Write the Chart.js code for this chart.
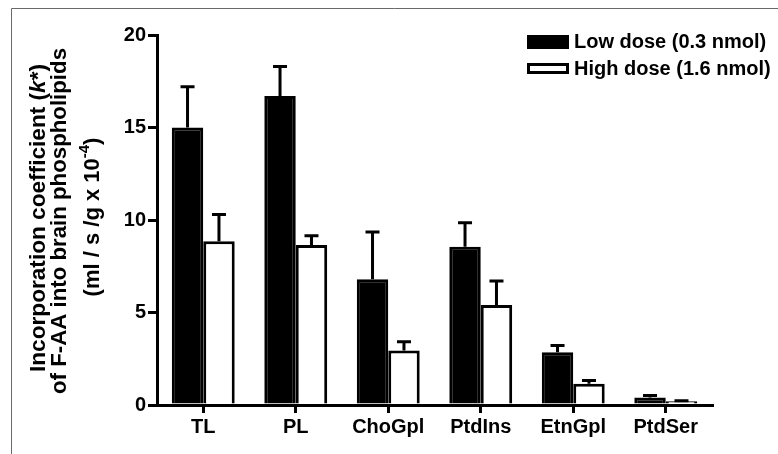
<!DOCTYPE html>
<html>
<head>
<meta charset="utf-8">
<script src="https://cdn.jsdelivr.net/npm/chart.js@4.4.1/dist/chart.umd.min.js"></script>
<style>
    html, body { margin: 0; padding: 0; background: #fff; }
    #grafico { display: block; }
</style>
</head>
<body>
<canvas id="grafico" width="778" height="454"></canvas>
<script>
// Values (k*, ml / s / g x 10^-4)
const categories = ['TL', 'PL', 'ChoGpl', 'PtdIns', 'EtnGpl', 'PtdSer'];
const lowDose = [15.0, 16.7, 6.8, 8.55, 2.85, 0.4];
const lowDoseErr = [2.2, 1.6, 2.55, 1.3, 0.37, 0.12];
const highDose = [8.85, 8.65, 2.95, 5.4, 1.15, 0.2];
const highDoseErr = [1.45, 0.5, 0.47, 1.3, 0.17, 0.03];
const yTicks = [0, 5, 10, 15, 20];
const seriesLabels = ['Low dose (0.3 nmol)', 'High dose (1.6 nmol)'];

const FONT = '"Liberation Sans", Arial, sans-serif';

document.addEventListener('DOMContentLoaded', () => {
    const ctx = document.getElementById('grafico').getContext('2d');
    Chart.defaults.font.family = FONT;
    Chart.defaults.color = '#000';

    // thin grey frame of the original scan (top and left edge only)
    const framePlugin = {
        id: 'frame',
        beforeDraw(chart) {
            const c = chart.ctx;
            c.save();
            c.fillStyle = '#fff';
            c.fillRect(0, 0, chart.width, chart.height);
            c.strokeStyle = '#6a6a6a';
            c.lineWidth = 1;
            c.beginPath();
            c.moveTo(11.5, chart.height);
            c.lineTo(11.5, 8.5);
            c.lineTo(chart.width, 8.5);
            c.stroke();
            c.restore();
        }
    };

    // upper error bars (SEM) drawn from each dataset's errors array
    const errorBarPlugin = {
        id: 'errorBars',
        afterDatasetsDraw(chart) {
            const c = chart.ctx;
            const y = chart.scales.y;
            c.save();
            c.strokeStyle = '#000';
            c.lineWidth = 3;
            chart.data.datasets.forEach((ds, i) => {
                const meta = chart.getDatasetMeta(i);
                meta.data.forEach((bar, j) => {
                    const top = y.getPixelForValue(ds.data[j] + ds.errors[j]);
                    c.beginPath();
                    c.moveTo(bar.x, bar.y);
                    c.lineTo(bar.x, top);
                    c.moveTo(bar.x - 7, top);
                    c.lineTo(bar.x + 7, top);
                    c.stroke();
                });
            });
            c.restore();
        }
    };

    // legend stacked in the upper right corner
    const legendPlugin = {
        id: 'stackedLegend',
        afterDraw(chart) {
            const c = chart.ctx;
            const rows = [{ y: 35, h: 14 }, { y: 63, h: 11 }];
            c.save();
            c.font = 'bold 20px ' + FONT;
            c.textBaseline = 'middle';
            chart.data.datasets.forEach((ds, i) => {
                const r = rows[i];
                c.fillStyle = ds.backgroundColor;
                c.fillRect(527, r.y, 42, r.h);
                c.strokeStyle = '#000';
                c.lineWidth = 3;
                c.strokeRect(528.5, r.y + 1.5, 39, r.h - 3);
                c.fillStyle = '#000';
                c.fillText(ds.label, 574, i === 0 ? 42 : 69);
            });
            c.restore();
        }
    };

    // rotated y title with italic k and superscript exponent
    const yTitlePlugin = {
        id: 'yTitle',
        afterDraw(chart) {
            const c = chart.ctx;
            const bold = 'bold 22px ' + FONT;
            const lines = [
                { x: 45, cy: 218, len: 308, parts: [
                    { t: 'Incorporation coefficient (', f: bold },
                    { t: 'k', f: 'italic bold 22px ' + FONT },
                    { t: '*)', f: bold }] },
                { x: 66, cy: 221, len: 346, parts: [{ t: 'of F-AA into brain phospholipids', f: bold }] },
                { x: 99, cy: 217, len: 0, parts: [
                    { t: '(ml / s /g x 10', f: bold },
                    { t: '-4', f: 'bold 15px ' + FONT, dy: -10 },
                    { t: ')', f: bold }] }
            ];
            c.save();
            c.fillStyle = '#000';
            c.textBaseline = 'alphabetic';
            lines.forEach(line => {
                let total = 0;
                line.parts.forEach(p => { c.font = p.f; p.w = c.measureText(p.t).width; total += p.w; });
                const k = line.len ? line.len / total : 1;
                c.save();
                c.translate(line.x, line.cy);
                c.rotate(-Math.PI / 2);
                c.scale(k, 1);
                let px = -total / 2;
                line.parts.forEach(p => {
                    c.font = p.f;
                    c.fillText(p.t, px, p.dy || 0);
                    px += p.w;
                });
                c.restore();
            });
            c.restore();
        }
    };

    new Chart(ctx, {
        type: 'bar',
        data: {
            labels: categories,
            datasets: [{
                label: seriesLabels[0],
                data: lowDose,
                errors: lowDoseErr,
                backgroundColor: '#000',
                borderColor: '#000',
                borderWidth: 3
            }, {
                label: seriesLabels[1],
                data: highDose,
                errors: highDoseErr,
                backgroundColor: '#fff',
                borderColor: '#000',
                borderWidth: 3
            }]
        },
        options: {
            responsive: false,
            animation: false,
            devicePixelRatio: 1,
            layout: { padding: { top: 35, right: 66, left: 0, bottom: 0 } },
            datasets: { bar: { categoryPercentage: 0.68, barPercentage: 1 } },
            plugins: { legend: { display: false }, tooltip: { enabled: false } },
            scales: {
                x: {
                    grid: { offset: false, drawOnChartArea: false, tickLength: 8, lineWidth: 3, color: '#000' },
                    border: { display: true, width: 3, color: '#000' },
                    ticks: { font: { size: 20, weight: 'bold' }, color: '#000', padding: 2, maxRotation: 0 },
                    afterFit: scale => { scale.height = 49; }
                },
                y: {
                    min: 0,
                    max: 20,
                    afterBuildTicks: scale => { scale.ticks = yTicks.map(v => ({ value: v })); },
                    grid: { drawOnChartArea: false, tickLength: 9, lineWidth: 3, color: '#000' },
                    border: { display: true, width: 3, color: '#000' },
                    ticks: { font: { size: 20, weight: 'bold' }, color: '#000', padding: 2 },
                    afterFit: scale => { scale.width = 157; }
                }
            }
        },
        plugins: [framePlugin, errorBarPlugin, legendPlugin, yTitlePlugin]
    });
});
</script>
</body>
</html>
